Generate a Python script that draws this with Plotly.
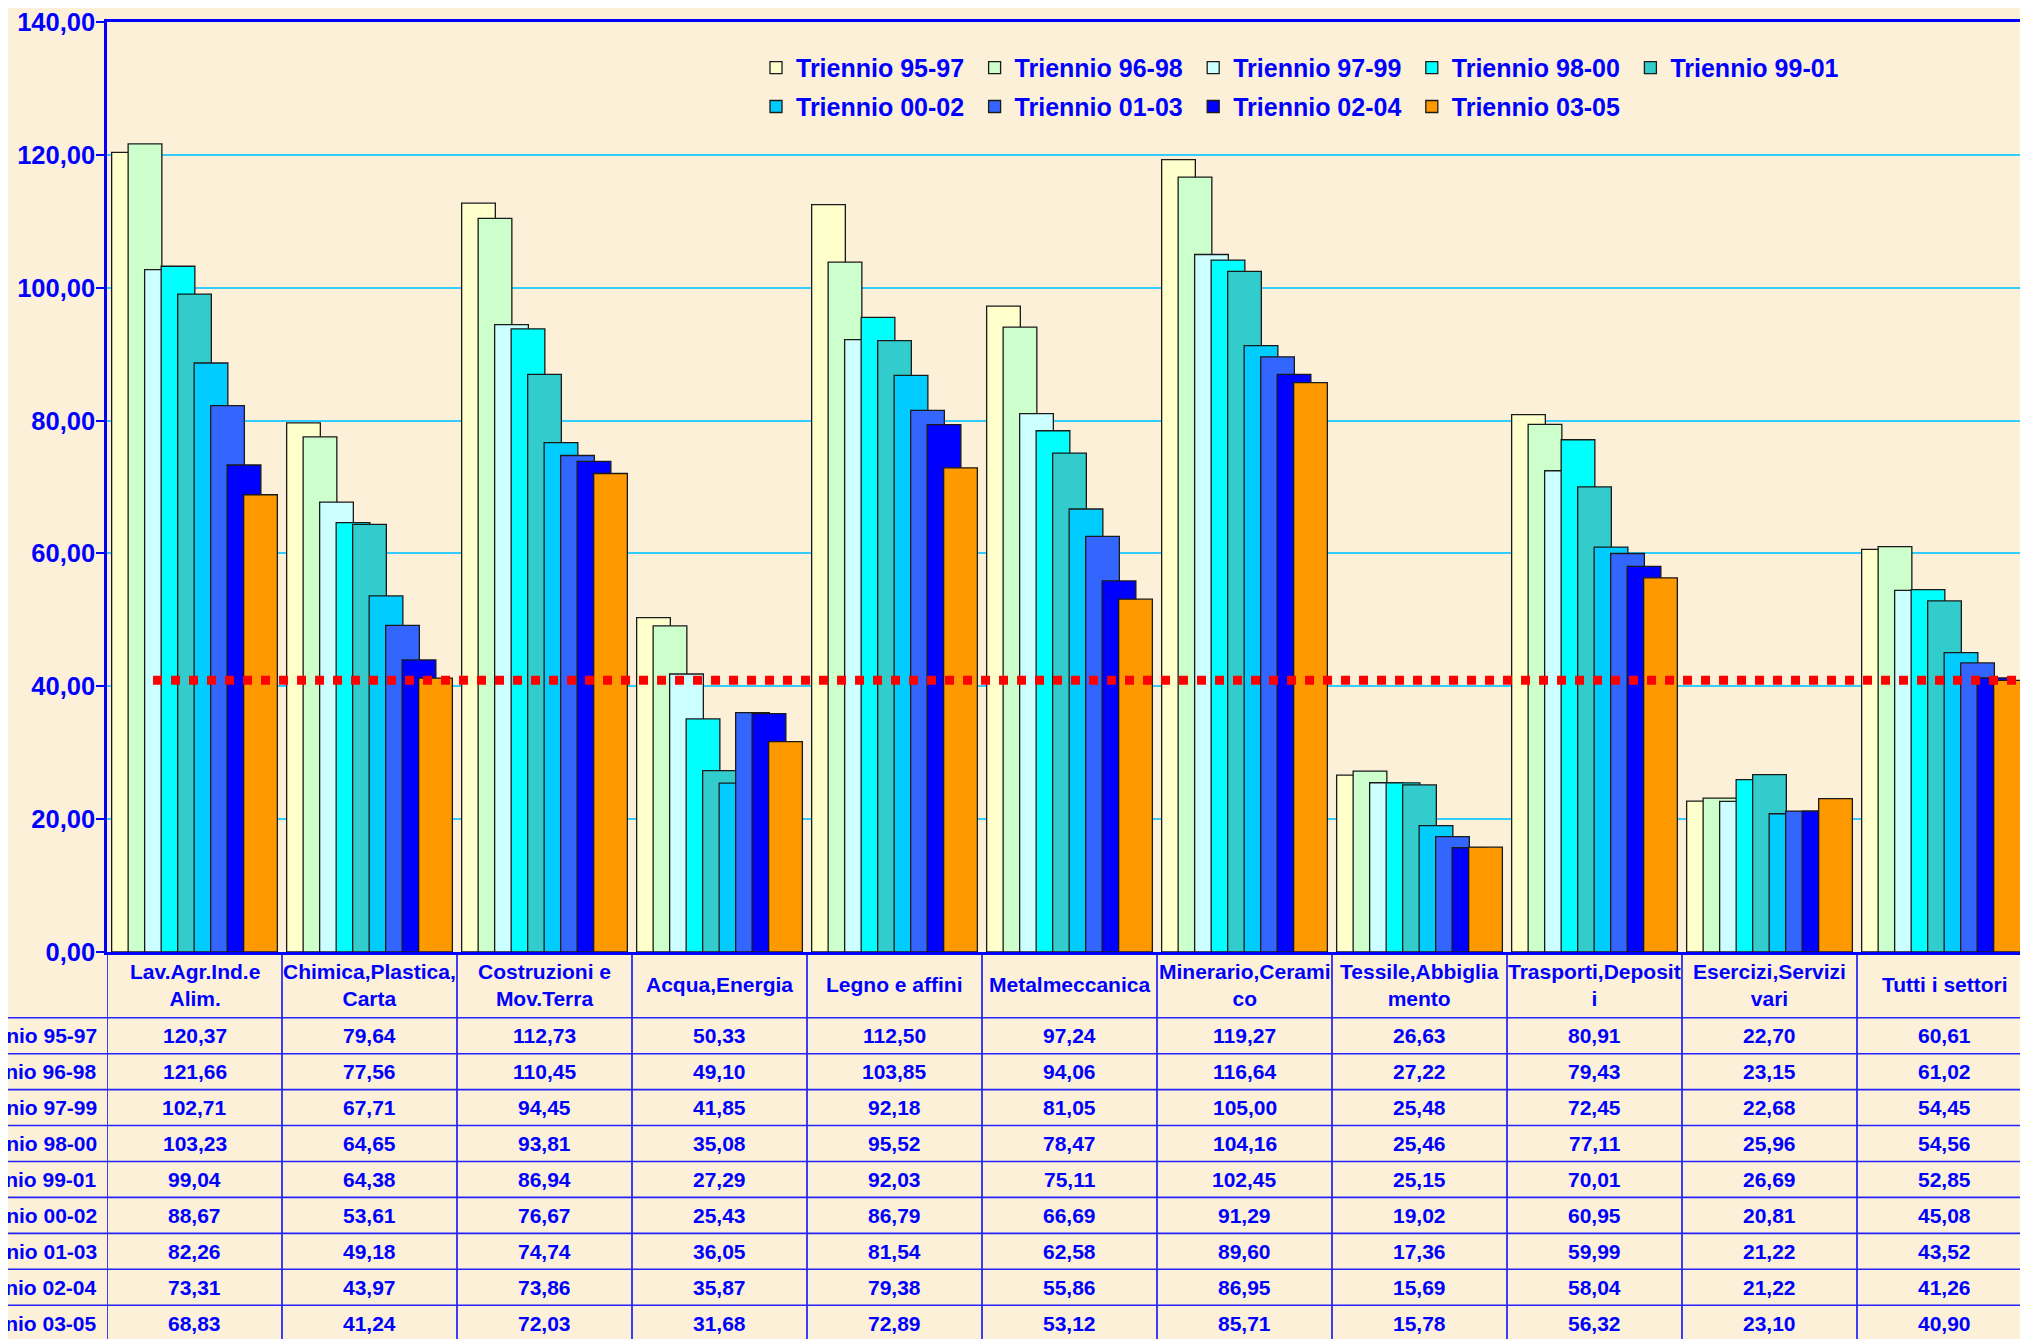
import plotly.graph_objects as go

# ---------------- data ----------------
categories = [
    "Lav.Agr.Ind.e Alim.", "Chimica,Plastica, Carta", "Costruzioni e Mov.Terra",
    "Acqua,Energia", "Legno e affini", "Metalmeccanica", "Minerario,Ceramico",
    "Tessile,Abbigliamento", "Trasporti,Depositi", "Esercizi,Servizi vari",
    "Tutti i settori",
]
header_labels = [
    "Lav.Agr.Ind.e<br>Alim.", "Chimica,Plastica,<br>Carta", "Costruzioni e<br>Mov.Terra",
    "Acqua,Energia", "Legno e affini", "Metalmeccanica", "Minerario,Cerami<br>co",
    "Tessile,Abbiglia<br>mento", "Trasporti,Deposit<br>i", "Esercizi,Servizi<br>vari",
    "Tutti i settori",
]
series_names = [
    "Triennio 95-97", "Triennio 96-98", "Triennio 97-99", "Triennio 98-00",
    "Triennio 99-01", "Triennio 00-02", "Triennio 01-03", "Triennio 02-04",
    "Triennio 03-05",
]
t_95_97 = [120.37, 79.64, 112.73, 50.33, 112.50, 97.24, 119.27, 26.63, 80.91, 22.70, 60.61]
t_96_98 = [121.66, 77.56, 110.45, 49.10, 103.85, 94.06, 116.64, 27.22, 79.43, 23.15, 61.02]
t_97_99 = [102.71, 67.71, 94.45, 41.85, 92.18, 81.05, 105.00, 25.48, 72.45, 22.68, 54.45]
t_98_00 = [103.23, 64.65, 93.81, 35.08, 95.52, 78.47, 104.16, 25.46, 77.11, 25.96, 54.56]
t_99_01 = [99.04, 64.38, 86.94, 27.29, 92.03, 75.11, 102.45, 25.15, 70.01, 26.69, 52.85]
t_00_02 = [88.67, 53.61, 76.67, 25.43, 86.79, 66.69, 91.29, 19.02, 60.95, 20.81, 45.08]
t_01_03 = [82.26, 49.18, 74.74, 36.05, 81.54, 62.58, 89.60, 17.36, 59.99, 21.22, 43.52]
t_02_04 = [73.31, 43.97, 73.86, 35.87, 79.38, 55.86, 86.95, 15.69, 58.04, 21.22, 41.26]
t_03_05 = [68.83, 41.24, 72.03, 31.68, 72.89, 53.12, 85.71, 15.78, 56.32, 23.10, 40.90]
series_values = [t_95_97, t_96_98, t_97_99, t_98_00, t_99_01, t_00_02, t_01_03, t_02_04, t_03_05]
reference_value = t_03_05[-1]  # Tutti i settori, triennio 03-05

# ---------------- style ----------------
colors = ["#FFFFCC", "#CCFFCC", "#CCFFFF", "#00FFFF", "#33CCCC",
          "#00CCFF", "#3366FF", "#0000FF", "#FF9900"]
BLUE = "#0000FF"
BG = "#FCF0D9"
FONT = "Arial, Liberation Sans, sans-serif"

OFF = 8  # page body margin: screen px = figure px + OFF
W, H = 2028, 1339
M_L = 107 - OFF
M_T = 11
PLOT_BOTTOM = 952 - OFF
M_B = H - PLOT_BOTTOM
PLOT_W = W - M_L
PLOT_H = PLOT_BOTTOM - M_T
CAT_PX = 175.0
X_MAX = -0.5 + PLOT_W / CAT_PX


def py(screen_px):
    return (PLOT_BOTTOM - (screen_px - OFF)) / PLOT_H


def pxx(screen_px):
    return ((screen_px - OFF) - M_L) / PLOT_W


BAR_W = 0.1926
BAR_STEP = 0.0943
FIRST_OFF = -(8 * BAR_STEP + BAR_W) / 2

fig = go.Figure()
for i, (name, vals) in enumerate(zip(series_names, series_values)):
    fig.add_trace(go.Bar(
        x=list(range(len(categories))), y=vals, name=name,
        offset=FIRST_OFF + i * BAR_STEP, width=BAR_W,
        marker=dict(color=colors[i], line=dict(color="#1a1a1a", width=1.3)),
        opacity=1,
        legend="legend" if i < 5 else "legend2",
        hovertemplate=name + "<br>%{y:.2f}<extra></extra>",
    ))

shapes = []
# reference dotted red line
shapes.append(dict(type="line", xref="x", yref="y", x0=-0.237, x1=10.7,
                   y0=reference_value, y1=reference_value, layer="above",
                   line=dict(color="#FF0000", width=9, dash="9px,9px")))

# table grid
HEADER_BOTTOM = 1018
ROW_H = 36.04
n_rows = len(series_names)
for k in range(len(categories) + 1):
    shapes.append(dict(type="line", xref="x", yref="paper", x0=-0.5 + k, x1=-0.5 + k,
                       y0=0, y1=py(H + 20), line=dict(color=BLUE, width=1.5)))
for r in range(n_rows + 1):
    yy = HEADER_BOTTOM + r * ROW_H
    shapes.append(dict(type="line", xref="paper", yref="paper", x0=pxx(0), x1=pxx(W + 20),
                       y0=py(yy), y1=py(yy), line=dict(color="#2323FF", width=1.6)))

annotations = []
tfont = dict(family=FONT, size=21, color=BLUE, weight="bold")
for j, lab in enumerate(header_labels):
    annotations.append(dict(x=j, y=py((952 + HEADER_BOTTOM) / 2), xref="x", yref="paper",
                            text=lab, showarrow=False, xanchor="center", yanchor="middle",
                            align="center", font=tfont))
for r, (name, vals) in enumerate(zip(series_names, series_values)):
    yc = py(HEADER_BOTTOM + (r + 0.5) * ROW_H)
    annotations.append(dict(x=pxx(99), y=yc, xref="paper", yref="paper", text=name,
                            showarrow=False, xanchor="right", yanchor="middle", font=tfont))
    for j, v in enumerate(vals):
        annotations.append(dict(x=j, y=yc, xref="x", yref="paper",
                                text=f"{v:.2f}".replace(".", ","), showarrow=False,
                                xanchor="center", yanchor="middle", font=tfont))

legend_font = dict(family=FONT, size=25, color=BLUE, weight="bold")
LEG_X = pxx(756)
fig.update_layout(
    width=W, height=H,
    margin=dict(l=M_L, r=0, t=M_T, b=M_B, pad=0),
    paper_bgcolor=BG, plot_bgcolor=BG,
    barmode="overlay",
    separators=",.",
    showlegend=True,
    legend=dict(orientation="h", x=LEG_X, y=py(65), xanchor="left", yanchor="middle",
                entrywidth=173.6, entrywidthmode="pixels", font=legend_font,
                bgcolor="rgba(0,0,0,0)", itemclick=False, traceorder="normal"),
    legend2=dict(orientation="h", x=LEG_X, y=py(104), xanchor="left", yanchor="middle",
                 entrywidth=173.6, entrywidthmode="pixels", font=legend_font,
                 bgcolor="rgba(0,0,0,0)", itemclick=False, traceorder="normal"),
    xaxis=dict(range=[-0.5, X_MAX], showticklabels=False, ticks="", showgrid=False,
               zeroline=False, showline=True, linecolor=BLUE, linewidth=2.5, mirror=True),
    yaxis=dict(range=[0, 140], dtick=20, tick0=0, tickformat=".2f", showline=True,
               linecolor=BLUE, linewidth=2.5, ticks="outside", ticklen=8, tickwidth=2,
               tickcolor=BLUE, gridcolor="#33CCFF", gridwidth=1.5, zeroline=False,
               ticklabeloverflow="allow", ticklabelstandoff=-4,
               tickfont=dict(family=FONT, size=25.5, color=BLUE, weight="bold")),
    shapes=shapes,
    annotations=annotations,
)

fig.write_html("out.html")
